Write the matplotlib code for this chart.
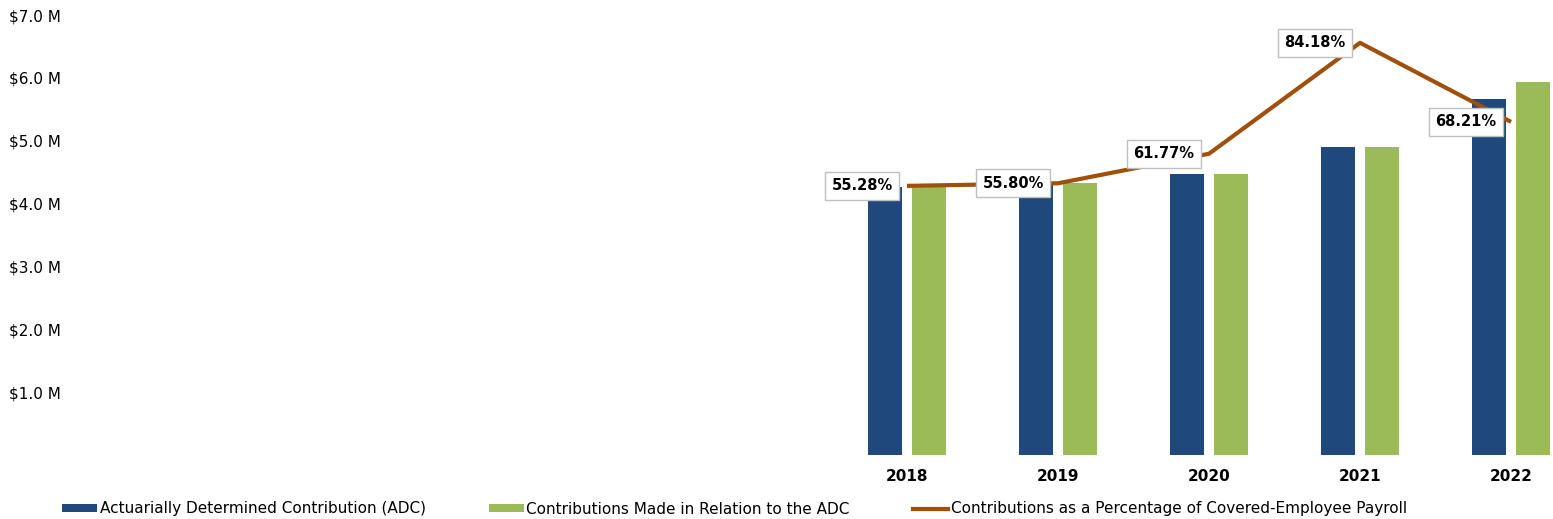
import matplotlib
matplotlib.use("Agg")
import matplotlib.pyplot as plt
from matplotlib import font_manager
from matplotlib.patches import Patch
from matplotlib.lines import Line2D

# --- DATA ---
years = ["2018", "2019", "2020", "2021", "2022"]
adc = [4.27, 4.32, 4.47, 4.90, 5.66]             # $M
contributions = [4.27, 4.32, 4.47, 4.90, 5.93]   # $M
pct_payroll = [55.28, 55.80, 61.77, 84.18, 68.21]
y_ticks = [1, 2, 3, 4, 5, 6, 7]

BLUE = "#1F497D"
GREEN = "#9BBB59"
BROWN = "#A0500A"

# pick a narrow sans if one is around
available = {f.name for f in font_manager.fontManager.ttflist}
for fam in ["DejaVu Sans Condensed", "Liberation Sans Narrow", "DejaVu Sans"]:
    if fam in available:
        plt.rcParams["font.family"] = fam
        break

fig = plt.figure(figsize=(15.53, 5.19), dpi=100)
ax = fig.add_axes([68 / 1553, 64 / 519, 1 - 68 / 1553, (455 - 15) / 519])

x = list(range(len(years)))
w = 0.225
ax.bar([i - 0.144 for i in x], adc, width=w, color=BLUE, zorder=2)
ax.bar([i + 0.146 for i in x], contributions, width=w, color=GREEN, zorder=2)

ax.set_xlim(-5.556, 4.278)
ax.set_ylim(0, 7.0)
ax.set_yticks(y_ticks)
ax.set_yticklabels([f"${v:.1f} M" for v in y_ticks], fontsize=11)
ax.set_xticks(x)
ax.set_xticklabels(years, fontsize=11, fontweight="bold")
ax.tick_params(axis="y", length=0, pad=5)
ax.tick_params(axis="x", length=0, pad=10)
for s in ax.spines.values():
    s.set_visible(False)

# percentage line on a hidden second axis
ax2 = ax.twinx()
ax2.plot(x, pct_payroll, color=BROWN, lw=3, zorder=3, solid_capstyle="butt")
ax2.set_ylim(0.9, 89.8)
ax2.set_yticks([])
for s in ax2.spines.values():
    s.set_visible(False)

for xi, p in zip(x, pct_payroll):
    ax2.annotate(f"{p:.2f}%", (xi, p), xytext=(-45, 0), textcoords="offset pixels",
                 ha="center", va="center", fontsize=10.5, fontweight="bold",
                 bbox=dict(boxstyle="square,pad=0.45", fc="white", ec="#BFBFBF", lw=1),
                 zorder=4)

handles = [
    Patch(facecolor=BLUE, label="Actuarially Determined Contribution (ADC)"),
    Patch(facecolor=GREEN, label="Contributions Made in Relation to the ADC"),
    Line2D([], [], color=BROWN, lw=3, label="Contributions as a Percentage of Covered-Employee Payroll"),
]
fig.legend(handles=handles, loc="center left", bbox_to_anchor=(56 / 1553, 1 - 509 / 519),
           ncol=3, frameon=False, fontsize=11, handlelength=2.3, handleheight=0.5,
           handletextpad=0.15, columnspacing=4.15, borderaxespad=0)

fig.savefig("out.png", dpi=100)
